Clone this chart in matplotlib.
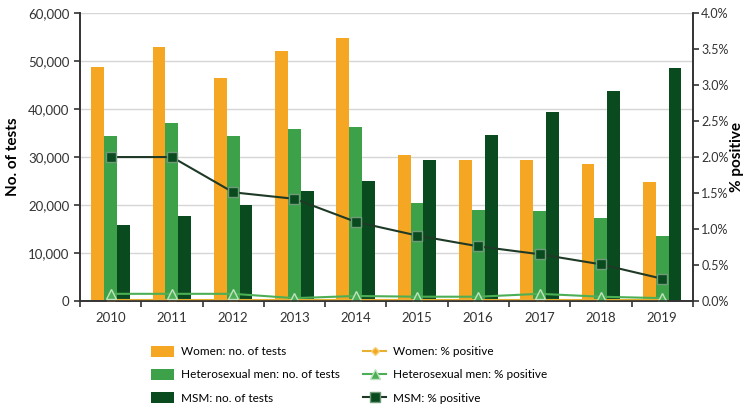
import numpy as np
import matplotlib.pyplot as plt
from matplotlib.ticker import FuncFormatter, MultipleLocator, PercentFormatter

plt.rcParams['font.family'] = ['Lato', 'DejaVu Sans']

years = ["2010", "2011", "2012", "2013", "2014", "2015", "2016", "2017", "2018", "2019"]

women_tests = [48800, 52900, 46500, 52100, 54800, 30500, 29400, 29400, 28500, 24800]
hetero_tests = [34400, 37100, 34400, 35900, 36300, 20400, 19000, 18800, 17300, 13500]
msm_tests = [15900, 17700, 20000, 22900, 25000, 29400, 34600, 39400, 43700, 48500]

women_pos = [0.02, 0.02, 0.02, 0.02, 0.02, 0.02, 0.02, 0.02, 0.02, 0.02]
hetero_pos = [0.10, 0.10, 0.10, 0.04, 0.07, 0.06, 0.06, 0.10, 0.06, 0.04]
msm_pos = [2.00, 2.00, 1.51, 1.42, 1.10, 0.91, 0.76, 0.65, 0.51, 0.31]

c_women = "#F5A623"
c_hetero = "#3DA14A"
c_msm = "#0A4A1F"

fig = plt.figure(figsize=(7.51, 4.09), dpi=100)
ax = fig.add_axes([0.1065, 0.264, 0.816, 0.704])
ax2 = ax.twinx()

x = np.arange(len(years))
w = 0.21
b1 = ax.bar(x - w, women_tests, w, color=c_women, label="Women: no. of tests", zorder=2)
b2 = ax.bar(x, hetero_tests, w, color=c_hetero, label="Heterosexual men: no. of tests", zorder=2)
b3 = ax.bar(x + w, msm_tests, w, color=c_msm, label="MSM: no. of tests", zorder=2)

l1, = ax2.plot(x, women_pos, color="#E8B030", lw=1.5, marker="D", ms=4,
               mfc=c_women, mec="#F3D27A", label="Women: % positive")
l2, = ax2.plot(x, hetero_pos, color="#4DAF55", lw=1.5, marker="^", ms=7,
               mfc="#4DAF55", mec="#BFE3BF", label="Heterosexual men: % positive")
l3, = ax2.plot(x, msm_pos, color="#1E3A26", lw=1.5, marker="s", ms=7,
               mfc=c_msm, mec="#6E9A78", label="MSM: % positive")

ax.set_xlim(-0.5, len(years) - 0.5)
ax.set_ylim(0, 60000)
ax2.set_ylim(0, 4.0)

ax.yaxis.set_major_locator(MultipleLocator(10000))
ax.yaxis.set_major_formatter(FuncFormatter(lambda v, p: f"{int(v):,}"))
ax2.yaxis.set_major_locator(MultipleLocator(0.5))
ax2.yaxis.set_major_formatter(PercentFormatter(decimals=1))

ax.set_xticks(x)
ax.set_xticklabels(years)
ax.set_xticks(np.arange(-0.5, len(years), 1.0), minor=True)
ax.tick_params(axis="x", which="major", length=0, pad=8, labelsize=9.5, colors="#333333")
ax.tick_params(axis="x", which="minor", length=4, width=1.2, color="#333333")
ax.tick_params(axis="y", length=4, width=1.2, color="#333333", labelsize=9.5, labelcolor="#333333")
ax2.tick_params(axis="y", length=4, width=1.2, color="#333333", labelsize=9, pad=2,
                labelcolor="#333333")

ax.grid(axis="y", color="#D6D6D6", lw=1, zorder=0)
ax.set_axisbelow(True)
for a in (ax, ax2):
    a.spines["top"].set_visible(False)
    for s in a.spines.values():
        s.set_color("#333333")
        s.set_linewidth(1.2)

ax.set_ylabel("No. of tests", fontsize=11, fontweight="bold", labelpad=6)
ax2.set_ylabel("% positive", fontsize=11, fontweight="bold", labelpad=1)

fig.legend(handles=[b1, b2, b3, l1, l2, l3], loc="upper center",
           bbox_to_anchor=(0.465, 0.18), ncol=2, frameon=False,
           fontsize=8.5, columnspacing=1.9, handlelength=2.0, handleheight=1.0,
           handletextpad=0.6, labelspacing=1.0)

fig.savefig("out.png", dpi=100)
